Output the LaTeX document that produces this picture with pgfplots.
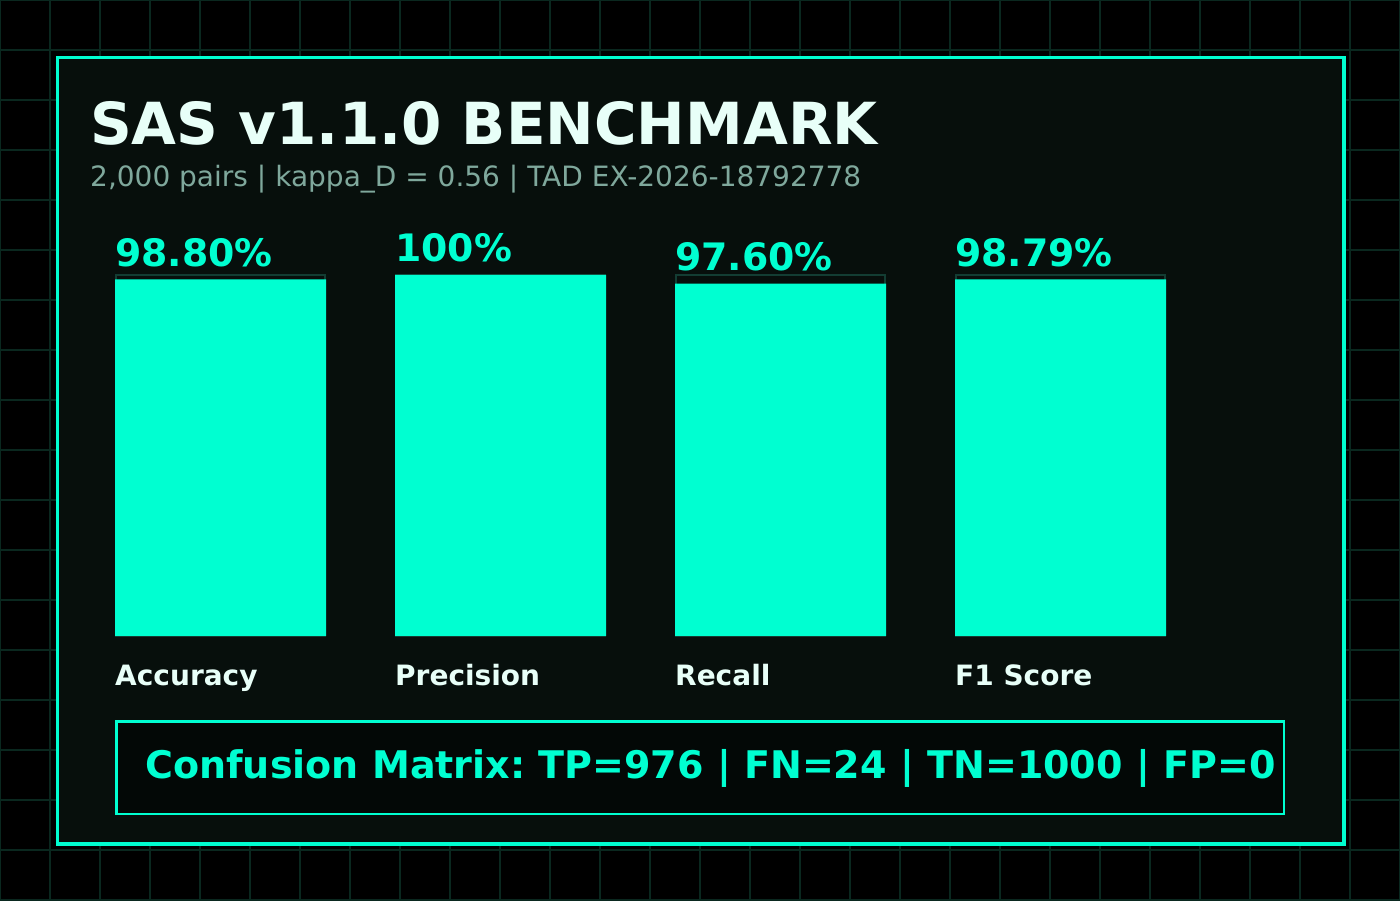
\documentclass[border=0pt]{standalone}
\usepackage{fontspec}
\setmainfont{DejaVu Sans}
\usepackage{pgfplots}
\pgfplotsset{compat=1.18}
\definecolor{teal}{HTML}{00FFD1}
\definecolor{panel}{HTML}{070F0C}
\definecolor{gridc}{HTML}{0A281F}
\definecolor{track}{HTML}{133D33}
\definecolor{titlec}{HTML}{E8FFF8}
\definecolor{subc}{HTML}{7FA89C}
\definecolor{boxc}{HTML}{030806}
\frenchspacing
\begin{document}
\begin{tikzpicture}
% background / decor axis in pixel coordinates
\begin{axis}[
  at={(0pt,0pt)}, anchor=south west,
  scale only axis, width=1400pt, height=900pt,
  xmin=0, xmax=1400, ymin=0, ymax=900, y dir=reverse,
  xtick={0,50,...,1400}, ytick={0,50,...,900},
  xticklabels={}, yticklabels={},
  major tick length=0pt,
  grid=major, grid style={draw=gridc, line width=1.1pt},
  axis line style={draw=none},
  axis background/.style={fill=black},
  clip=false]
\draw[draw=teal, line width=3.5pt, fill=panel] (axis cs:57.5,57.5) rectangle (axis cs:1344,844);
\draw[draw=teal, line width=2.5pt, fill=boxc] (axis cs:116.5,721.5) rectangle (axis cs:1284,814);
\node[anchor=base west, inner sep=0pt, text=titlec, font=\bfseries\fontsize{58}{62}\selectfont] at (axis cs:90,144) {SAS v1.1.0 BENCHMARK};
\node[anchor=base west, inner sep=0pt, text=subc, font=\fontsize{28}{30}\selectfont] at (axis cs:90,186) {2,000 pairs | kappa\_D = 0.56 | TAD EX-2026-18792778};
\node[anchor=base west, inner sep=0pt, text=teal, font=\bfseries\fontsize{38.05}{40}\selectfont] at (axis cs:145,778) {Confusion Matrix: TP=976 | FN=24 | TN=1000 | FP=0};
\end{axis}
% bar axis
\begin{axis}[
  at={(80.5pt,264pt)}, anchor=south west,
  scale only axis, width=1120pt, height=361pt,
  xmin=-0.5, xmax=3.5, ymin=0, ymax=100,
  xtick={0,1,2,3},
  xticklabels={Accuracy,Precision,Recall,F1 Score},
  ytick=\empty,
  major tick length=0pt,
  axis line style={draw=none},
  xticklabel style={anchor=base west, inner sep=0pt, xshift=-105.5pt, yshift=-50pt,
    text=titlec, font=\bfseries\fontsize{28}{30}\selectfont},
  clip=false]
\addplot[ybar, bar width=209pt, bar shift=0pt, fill=panel, draw=track, line width=2pt]
  coordinates {(0,100) (1,100) (2,100) (3,100)};
\addplot[ybar, bar width=211pt, bar shift=0pt, fill=teal, draw=none,
  nodes near coords, point meta=explicit symbolic,
  nodes near coords style={anchor=base west, inner sep=0pt, xshift=-105.5pt, yshift=13pt,
    text=teal, font=\bfseries\fontsize{37.8}{40}\selectfont}]
  table[meta=label] {
x y label
0 98.80 98.80\%
1 100 100\%
2 97.60 97.60\%
3 98.79 98.79\%
};
\end{axis}
\pgfresetboundingbox
\useasboundingbox (0pt,0pt) rectangle (1400pt,900pt);
\end{tikzpicture}
\end{document}
